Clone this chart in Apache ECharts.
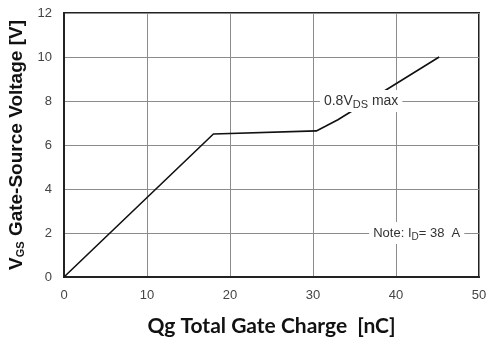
<!DOCTYPE html>
<html>
<head>
<meta charset="utf-8">
<script src="https://cdn.jsdelivr.net/npm/echarts@6/dist/echarts.min.js"></script>
<style>
  html, body { margin: 0; padding: 0; background: #fff; }
  #chart { width: 487px; height: 340px; }
</style>
</head>
<body>
<div id="chart"></div>
<script>
// Gate charge curve: total gate charge (nC) vs gate-source voltage (V)
const gateCharge = [0, 18, 30.4, 31.5, 33, 45.2];
const gateVoltage = [0, 6.5, 6.64, 6.85, 7.15, 10];

const xTicks = { min: 0, max: 50, interval: 10 };
const yTicks = { min: 0, max: 12, interval: 2 };

// Annotations placed on the curve / grid
const vdsNote = { q: 35.8, v: 8 };
const idNote = { q: 42.5, v: 2 };

const chart = echarts.init(document.getElementById('chart'));

const tickFont = { color: '#444', fontSize: 13, fontFamily: 'Liberation Sans, Arial, sans-serif' };

chart.setOption({
  backgroundColor: '#fff',
  animation: false,
  grid: {
    left: 64, right: 8, top: 13, bottom: 63,
    outerBoundsMode: 'none',
    containLabel: false,
    show: true, borderColor: '#222', borderWidth: 2, backgroundColor: 'transparent'
  },
  xAxis: {
    type: 'value',
    min: xTicks.min, max: xTicks.max, interval: xTicks.interval,
    axisLine: { show: true, lineStyle: { color: '#222', width: 2 } },
    axisTick: { show: false },
    axisLabel: Object.assign({ margin: 12 }, tickFont),
    splitLine: { show: true, lineStyle: { color: '#8c8c8c', width: 1 } },
    name: 'Qg Total Gate Charge  [nC]',
    nameLocation: 'middle',
    nameGap: 39,
    nameTextStyle: { fontFamily: 'Lato, Open Sans, sans-serif', fontWeight: 'bold', fontSize: 21, color: '#111' }
  },
  yAxis: {
    type: 'value',
    min: yTicks.min, max: yTicks.max, interval: yTicks.interval,
    axisLine: { show: true, lineStyle: { color: '#222', width: 2 } },
    axisTick: { show: false },
    axisLabel: Object.assign({ margin: 12 }, tickFont),
    splitLine: { show: true, lineStyle: { color: '#8c8c8c', width: 1 } },
    name: '{big|V}{small|GS}{big| Gate-Source Voltage [V]}',
    nameLocation: 'middle',
    nameRotate: 90,
    nameGap: 27,
    nameTextStyle: {
      rich: {
        big: { fontFamily: 'Liberation Sans, Arial, sans-serif', fontWeight: 'bold', fontSize: 19, color: '#111', lineHeight: 22, verticalAlign: 'bottom' },
        small: { fontFamily: 'Liberation Sans, Arial, sans-serif', fontWeight: 'bold', fontSize: 11, color: '#111', lineHeight: 22, verticalAlign: 'bottom' }
      }
    }
  },
  series: [{
    type: 'line',
    data: gateCharge.map((q, i) => [q, gateVoltage[i]]),
    symbol: 'none',
    smooth: false,
    lineStyle: { color: '#111', width: 1.6 },
    z: 3,
    markPoint: {
      symbol: 'circle', symbolSize: 0,
      z: 5,
      data: [
        {
          coord: [vdsNote.q, vdsNote.v],
          label: {
            show: true, position: 'inside',
            formatter: '{t|0.8V}{s|DS}{t| max}',
            backgroundColor: '#fff',
            padding: [2, 4, 2, 4],
            rich: {
              t: { fontFamily: 'Liberation Sans, Arial, sans-serif', fontSize: 14, color: '#333', lineHeight: 18, verticalAlign: 'middle' },
              s: { fontFamily: 'Liberation Sans, Arial, sans-serif', fontSize: 11, color: '#333', lineHeight: 18, verticalAlign: 'bottom', padding: [6, 0, 0, 0] }
            }
          }
        },
        {
          coord: [idNote.q, idNote.v],
          label: {
            show: true, position: 'inside',
            formatter: '{t|Note: I}{s|D}{t|= 38  A}',
            backgroundColor: '#fff',
            padding: [2, 4, 2, 4],
            rich: {
              t: { fontFamily: 'Liberation Sans, Arial, sans-serif', fontSize: 13, color: '#333', lineHeight: 18, verticalAlign: 'middle' },
              s: { fontFamily: 'Liberation Sans, Arial, sans-serif', fontSize: 10, color: '#333', lineHeight: 18, verticalAlign: 'bottom', padding: [6, 0, 0, 0] }
            }
          }
        }
      ]
    }
  }]
});
</script>
</body>
</html>
